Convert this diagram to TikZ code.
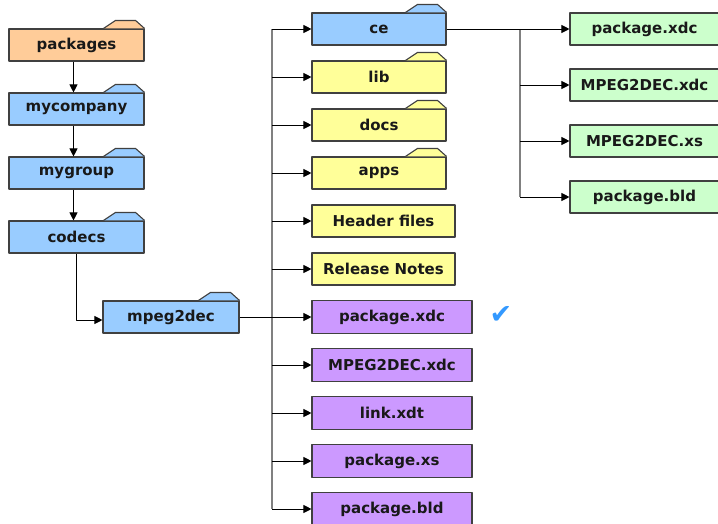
\documentclass[tikz,border=0pt]{standalone}
\usepackage{fontspec}
\setmainfont{DejaVu Sans}
\usetikzlibrary{arrows.meta}
\definecolor{pkgorange}{RGB}{255,204,153}
\definecolor{dirblue}{RGB}{153,204,255}
\definecolor{docyellow}{RGB}{255,255,153}
\definecolor{filepurple}{RGB}{204,153,255}
\definecolor{filegreen}{RGB}{204,255,204}
\definecolor{boxline}{RGB}{64,64,64}
\definecolor{tickblue}{RGB}{51,153,255}
% tab on top of a folder node
\newcommand{\foldertab}[2]{\draw[draw=boxline, line width=1.1pt, fill=#2] ([xshift=-41pt]#1.north east) -- ++(12pt,8pt) -- ++(20pt,0pt) -- (#1.north east);}

\begin{document}
\begin{tikzpicture}[x=1pt,y=-1pt,font=\bfseries\fontsize{15}{18}\selectfont, line join=round, >={Triangle[length=8pt,width=8pt]},
	box/.style={draw=boxline, line width=1.1pt, inner sep=0pt, minimum height=32pt, text=black!90},
	leftbox/.style={box, minimum width=135pt, fill=dirblue},
	midbox/.style={box, minimum width=134pt},
	notebox/.style={box, minimum width=143pt, fill=docyellow},
	filebox/.style={box, minimum width=160pt, minimum height=33pt, fill=filepurple},
	cebox/.style={box, minimum width=149pt, fill=filegreen},
	feed/.style={draw=black, line width=0.9pt, ->},
	trunkline/.style={draw=gray, line width=1.6pt}]
	\useasboundingbox (0,0) rectangle (718,523);
	% left column
	\node[leftbox, fill=pkgorange] (pkgs) at (76.5,45) {packages};
	\node[leftbox] (mycompany) at (76.5,109) {mycompany};
	\node[leftbox] (mygroup) at (76.5,173) {mygroup};
	\node[leftbox] (codecs) at (76.5,237) {codecs};
	\node[leftbox, minimum width=136pt] (mpeg) at (171,317) {mpeg2dec};
	\foldertab{pkgs}{pkgorange}
	\foldertab{mycompany}{dirblue}
	\foldertab{mygroup}{dirblue}
	\foldertab{codecs}{dirblue}
	\foldertab{mpeg}{dirblue}
	% middle column
	\node[midbox, fill=dirblue] (ce) at (379,29) {ce};
	\node[midbox, fill=docyellow] (lib) at (379,77) {lib};
	\node[midbox, fill=docyellow] (docs) at (379,125) {docs};
	\node[midbox, fill=docyellow] (apps) at (379,173) {apps};
	\foldertab{ce}{dirblue}
	\foldertab{lib}{docyellow}
	\foldertab{docs}{docyellow}
	\foldertab{apps}{docyellow}
	\node[notebox] (hdr) at (383.5,221) {Header files};
	\node[notebox] (rel) at (383.5,269) {Release Notes};
	\node[filebox] (pxdc) at (392,317) {package.xdc};
	\node[filebox] (mxdc) at (392,365) {MPEG2DEC.xdc};
	\node[filebox] (lxdt) at (392,413) {link.xdt};
	\node[filebox] (pxs) at (392,461) {package.xs};
	\node[filebox] (pbld) at (392,509) {package.bld};
	\node[text=tickblue, font=\mdseries\fontsize{27}{27}\selectfont] (tick) at (501,315) {✔};
	% right column
	\node[cebox] (cexdc) at (644.5,29) {package.xdc};
	\node[cebox] (cemxdc) at (644.5,85) {MPEG2DEC.xdc};
	\node[cebox] (cemxs) at (644.5,141) {MPEG2DEC.xs};
	\node[cebox] (cebld) at (644.5,197) {package.bld};
	% connectors
	\coordinate (trunk) at (272,0);
	\coordinate (branch) at (520,0);
	\draw[feed] ([xshift=-3pt]pkgs.south) -- ([xshift=-3pt]mycompany.north);
	\draw[feed] ([xshift=-3pt]mycompany.south) -- ([xshift=-3pt]mygroup.north);
	\draw[feed] ([xshift=-3pt]mygroup.south) -- ([xshift=-3pt]codecs.north);
	\draw[feed] (codecs.south) |- ([yshift=-3pt]mpeg.west);
	\draw[trunkline] (trunk |- ce.west) -- (trunk |- pbld.west);
	\draw[trunkline] (branch |- cexdc.west) -- (branch |- cebld.west);
	\draw[feed] (mpeg.east) -- (pxdc.west);
	\draw[feed] (trunk |- ce.west) -- (ce.west);
	\draw[feed] (trunk |- lib.west) -- (lib.west);
	\draw[feed] (trunk |- docs.west) -- (docs.west);
	\draw[feed] (trunk |- apps.west) -- (apps.west);
	\draw[feed] (trunk |- hdr.west) -- (hdr.west);
	\draw[feed] (trunk |- rel.west) -- (rel.west);
	\draw[feed] (trunk |- mxdc.west) -- (mxdc.west);
	\draw[feed] (trunk |- lxdt.west) -- (lxdt.west);
	\draw[feed] (trunk |- pxs.west) -- (pxs.west);
	\draw[feed] (trunk |- pbld.west) -- (pbld.west);
	\draw[feed] (ce.east) -- (cexdc.west);
	\draw[feed] (branch |- cemxdc.west) -- (cemxdc.west);
	\draw[feed] (branch |- cemxs.west) -- (cemxs.west);
	\draw[feed] (branch |- cebld.west) -- (cebld.west);
\end{tikzpicture}
\end{document}
